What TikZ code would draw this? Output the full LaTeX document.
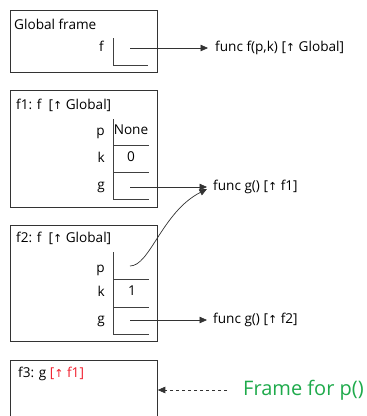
\documentclass[tikz,border=0pt]{standalone}
\usepackage{fontspec}
\setmainfont{Open Sans}
\newfontfamily\symfont{DejaVu Sans}
\usetikzlibrary{arrows.meta}
\newcommand{\upar}{{\symfont\fontsize{11}{12}\selectfont ↑}}
\definecolor{myred}{RGB}{240,30,45}
\definecolor{mygreen}{RGB}{30,170,75}
\begin{document}
\begin{tikzpicture}[x=1pt,y=-1pt,
  font=\fontsize{13.6}{15}\selectfont,
  framebox/.style={draw=black!80, line width=0.8pt, anchor=north west, minimum width=147pt, inner sep=0pt},
  title/.style={anchor=base west, inner sep=0pt},
  varname/.style={anchor=mid east, inner sep=0pt},
  val/.style={anchor=mid, inner sep=0pt},
  slot/.style={draw=black!75, line width=0.7pt},
  functxt/.style={anchor=west, inner sep=0pt},
  ptr/.style={draw=black!80, line width=0.7pt, -{Triangle[length=7.5pt,width=6.5pt]}}
]
\useasboundingbox (0,0) rectangle (367,416);

% Global frame
\node[framebox, minimum height=62pt] (gf) at (10,10) {};
\node[title] (gft) at (14,29) {Global frame};
\node[varname] (gfv) at (104,49) {f};
\draw[slot] (113,38) -- (113,65) -- (148,65);
\coordinate (gfp) at (130,48);
\node[functxt] (ff) at (215,48) {func f(p,k) [\upar\ Global]};
\draw[ptr] (gfp) -- ([xshift=-7pt]ff.west);

% f1 frame
\node[framebox, minimum height=117pt] (f1) at (10,90) {};
\node[title] (f1t) at (16,109) {f1: f\ \ [\upar\ Global]};
\draw[slot] (113,119) -- (113,199) -- (149,199);
\draw[slot] (113,145) -- (149,145);
\draw[slot] (113,172) -- (149,172);
\node[varname] (f1p) at (105,133) {p};
\node[varname] (f1k) at (105,160) {k};
\node[varname] (f1g) at (105,187) {g};
\node[val] (f1pv) at (131,132) {None};
\node[val] (f1kv) at (131,159) {0};
\coordinate (f1gp) at (130,187);
\node[functxt] (g1) at (213,187) {func g() [\upar\ f1]};
\draw[ptr] (f1gp) -- ([xshift=-6pt]g1.west);

% f2 frame
\node[framebox, minimum height=116pt] (f2) at (10,225) {};
\node[title] (f2t) at (16,242) {f2: f\ \ [\upar\ Global]};
\draw[slot] (113,252) -- (113,334) -- (149,334);
\draw[slot] (113,279) -- (149,279);
\draw[slot] (113,307) -- (149,307);
\node[varname] (f2p) at (105,270) {p};
\node[varname] (f2k) at (105,294) {k};
\node[varname] (f2g) at (105,321) {g};
\node[val] (f2kv) at (132,293) {1};
\coordinate (f2pp) at (130,266);
\draw[ptr] (f2pp) .. controls (150,266) and (162,212) .. ([xshift=-6pt,yshift=-2pt]g1.west);
\coordinate (f2gp) at (130,320);
\node[functxt] (g2) at (213,320) {func g() [\upar\ f2]};
\draw[ptr] (f2gp) -- ([xshift=-6pt]g2.west);

% f3 frame
\node[framebox, minimum height=80pt] (f3) at (10,360) {};
\node[title] (f3t) at (18,377) {f3: g \textcolor{myred}{[\upar\ f1]}};
\node[anchor=west, inner sep=0pt, text=mygreen, font=\fontsize{20}{22}\selectfont] (note) at (243,390) {Frame for p()};
\draw[draw=black!80, line width=0.7pt, dashed, -{Triangle[length=7.5pt,width=6.5pt]}] ([xshift=-16pt]note.west) -- (f3.east |- note.west);
\end{tikzpicture}
\end{document}
